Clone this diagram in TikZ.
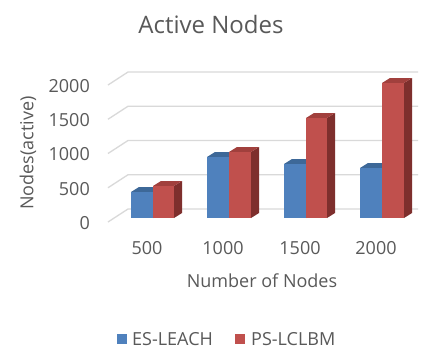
\documentclass[tikz,border=0pt]{standalone}
\usepackage{fontspec}
\setmainfont{Open Sans}
\definecolor{txt}{HTML}{595959}
\definecolor{gridc}{HTML}{D9D9D9}
\definecolor{bface}{HTML}{4F81BD}
\definecolor{btop}{HTML}{3D6898}
\definecolor{rface}{HTML}{C0504D}
\definecolor{rtop}{HTML}{A1403D}
\definecolor{rside}{HTML}{7E2F2D}
\newcommand\drawbarbox[6]{%
  % #1 x0, #2 x1, #3 top y, #4 face, #5 top, #6 side
  \fill[#6] (#2,218) -- (#2+8,213) -- (#2+8,#3-5) -- (#2,#3) -- cycle;
  \fill[#5] (#1,#3) -- (#1+8,#3-5) -- (#2+8,#3-5) -- (#2,#3) -- cycle;
  \fill[#4] (#1,218) rectangle (#2,#3);
}
\begin{document}
\begin{tikzpicture}[x=1pt,y=-1pt,
  lbl/.style={text=txt,font=\fontsize{18}{20}\selectfont,inner sep=0pt},
  gridline/.style={draw=gridc,line width=1.3pt}]
\useasboundingbox (0,0) rectangle (422,349);
\fill[white] (0,0) rectangle (422,349);
% gridlines
\foreach \v/\t in {0/0,1/500,2/1000,3/1500,4/2000}{
  \draw[gridline] (108,222-34.25*\v) -- (128,209-34.25*\v) -- (418,209-34.25*\v);
  \node[lbl,anchor=east] (yt\v) at (90,223-34.25*\v) {\t};
}
% bars
\drawbarbox{131}{153}{192}{bface}{btop}{btop}
\drawbarbox{153}{174}{186}{rface}{rtop}{rside}
\drawbarbox{207}{229}{157}{bface}{btop}{btop}
\drawbarbox{229}{251}{152}{rface}{rtop}{rside}
\drawbarbox{284}{306}{164}{bface}{btop}{btop}
\drawbarbox{306}{327}{118}{rface}{rtop}{rside}
\drawbarbox{360}{382}{168}{bface}{btop}{btop}
\drawbarbox{382}{404}{83}{rface}{rtop}{rside}
% x tick labels
\node[lbl] (x1) at (147,248) {500};
\node[lbl] (x2) at (223,248) {1000};
\node[lbl] (x3) at (300,248) {1500};
\node[lbl] (x4) at (376,248) {2000};
% axis titles
\node[lbl] (xt) at (262,281) {Number of Nodes};
\node[lbl,rotate=90] (yt) at (28,153) {Nodes(active)};
\node[text=txt,font=\fontsize{24}{28}\selectfont,inner sep=0pt] (title) at (211,24) {Active Nodes};
% legend
\fill[bface] (117,334) rectangle (127,344);
\node[lbl,anchor=west] (l1) at (132,339) {ES-LEACH};
\fill[rface] (235,334) rectangle (245,344);
\node[lbl,anchor=west] (l2) at (251,339) {PS-LCLBM};
\end{tikzpicture}
\end{document}
